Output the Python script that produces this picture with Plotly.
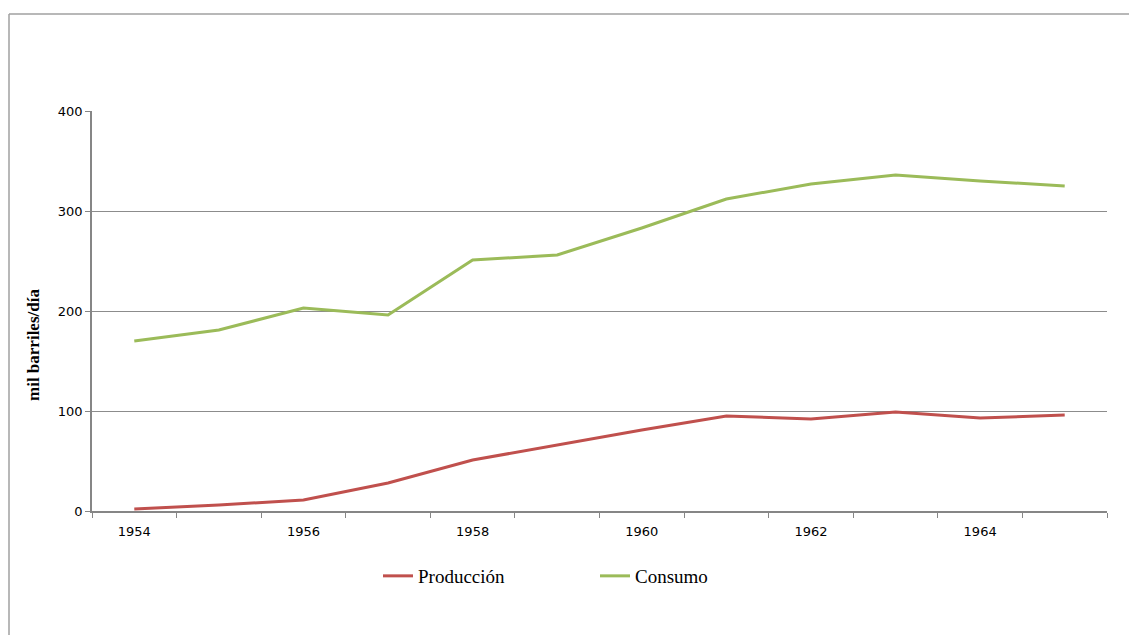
import plotly.graph_objects as go

years = [1954, 1955, 1956, 1957, 1958, 1959, 1960, 1961, 1962, 1963, 1964, 1965]
produccion = [2, 6, 11, 28, 51, 66, 81, 95, 92, 99, 93, 96]
consumo = [170, 181, 203, 196, 251, 256, 283, 312, 327, 336, 330, 325]
label_years = [1954, 1956, 1958, 1960, 1962, 1964]
y_ticks = [0, 100, 200, 300, 400]

W, H = 1129, 635
L, R, T, B = 92, 22, 111, 124
pw = W - L - R
ph = H - T - B

def px_x(p):
    return (p - L) / pw

def px_y(p):
    return (H - B - p) / ph

fig = go.Figure()
fig.add_trace(go.Scatter(x=years, y=produccion, mode="lines", name="Producción",
                         line=dict(color="#C0504D", width=3)))
fig.add_trace(go.Scatter(x=years, y=consumo, mode="lines", name="Consumo",
                         line=dict(color="#9BBB59", width=3)))

boundaries = [y - 0.5 for y in years] + [years[-1] + 0.5]

fig.update_layout(
    width=W, height=H,
    margin=dict(l=L, r=R, t=T, b=B),
    paper_bgcolor="white", plot_bgcolor="white",
    showlegend=True,
    legend=dict(orientation="h", x=px_x(378), xanchor="left", y=px_y(576), yanchor="middle",
                font=dict(family="Liberation Serif", size=19, color="#000000"),
                entrywidth=172, bgcolor="rgba(0,0,0,0)"),
    xaxis=dict(range=[years[0] - 0.5, years[-1] + 0.5], tickmode="array",
               tickvals=label_years, ticktext=[str(v) for v in label_years],
               ticks="", showgrid=False, zeroline=False,
               showline=True, linecolor="#868686", linewidth=1.5,
               tickfont=dict(family="DejaVu Sans", size=13, color="#000000"),
               ticklabelstandoff=8,
               minor=dict(tickmode="array", tickvals=boundaries, ticks="outside",
                          ticklen=5, tickcolor="#868686", tickwidth=1, showgrid=False)),
    yaxis=dict(range=[0, 400], tickmode="array", tickvals=y_ticks,
               ticks="outside", ticklen=5, tickcolor="#868686",
               showgrid=True, gridcolor="#8c8c8c", gridwidth=1,
               zeroline=False, showline=True, linecolor="#868686", linewidth=1.5,
               tickfont=dict(family="DejaVu Sans", size=13, color="#000000")),
    annotations=[dict(text="<b>mil barriles/día</b>", textangle=-90,
                      x=px_x(33), y=px_y(345), xref="paper", yref="paper",
                      showarrow=False, xanchor="center", yanchor="middle",
                      font=dict(family="Liberation Serif", size=17, color="#000000"))],
    shapes=[
        dict(type="line", xref="paper", yref="paper", x0=px_x(9), x1=px_x(1140),
             y0=px_y(14), y1=px_y(14), line=dict(color="#a0a0a0", width=1.5)),
        dict(type="line", xref="paper", yref="paper", x0=px_x(9), x1=px_x(9),
             y0=px_y(14), y1=px_y(650), line=dict(color="#a0a0a0", width=1.5)),
    ],
)

fig.write_html("out.html")
